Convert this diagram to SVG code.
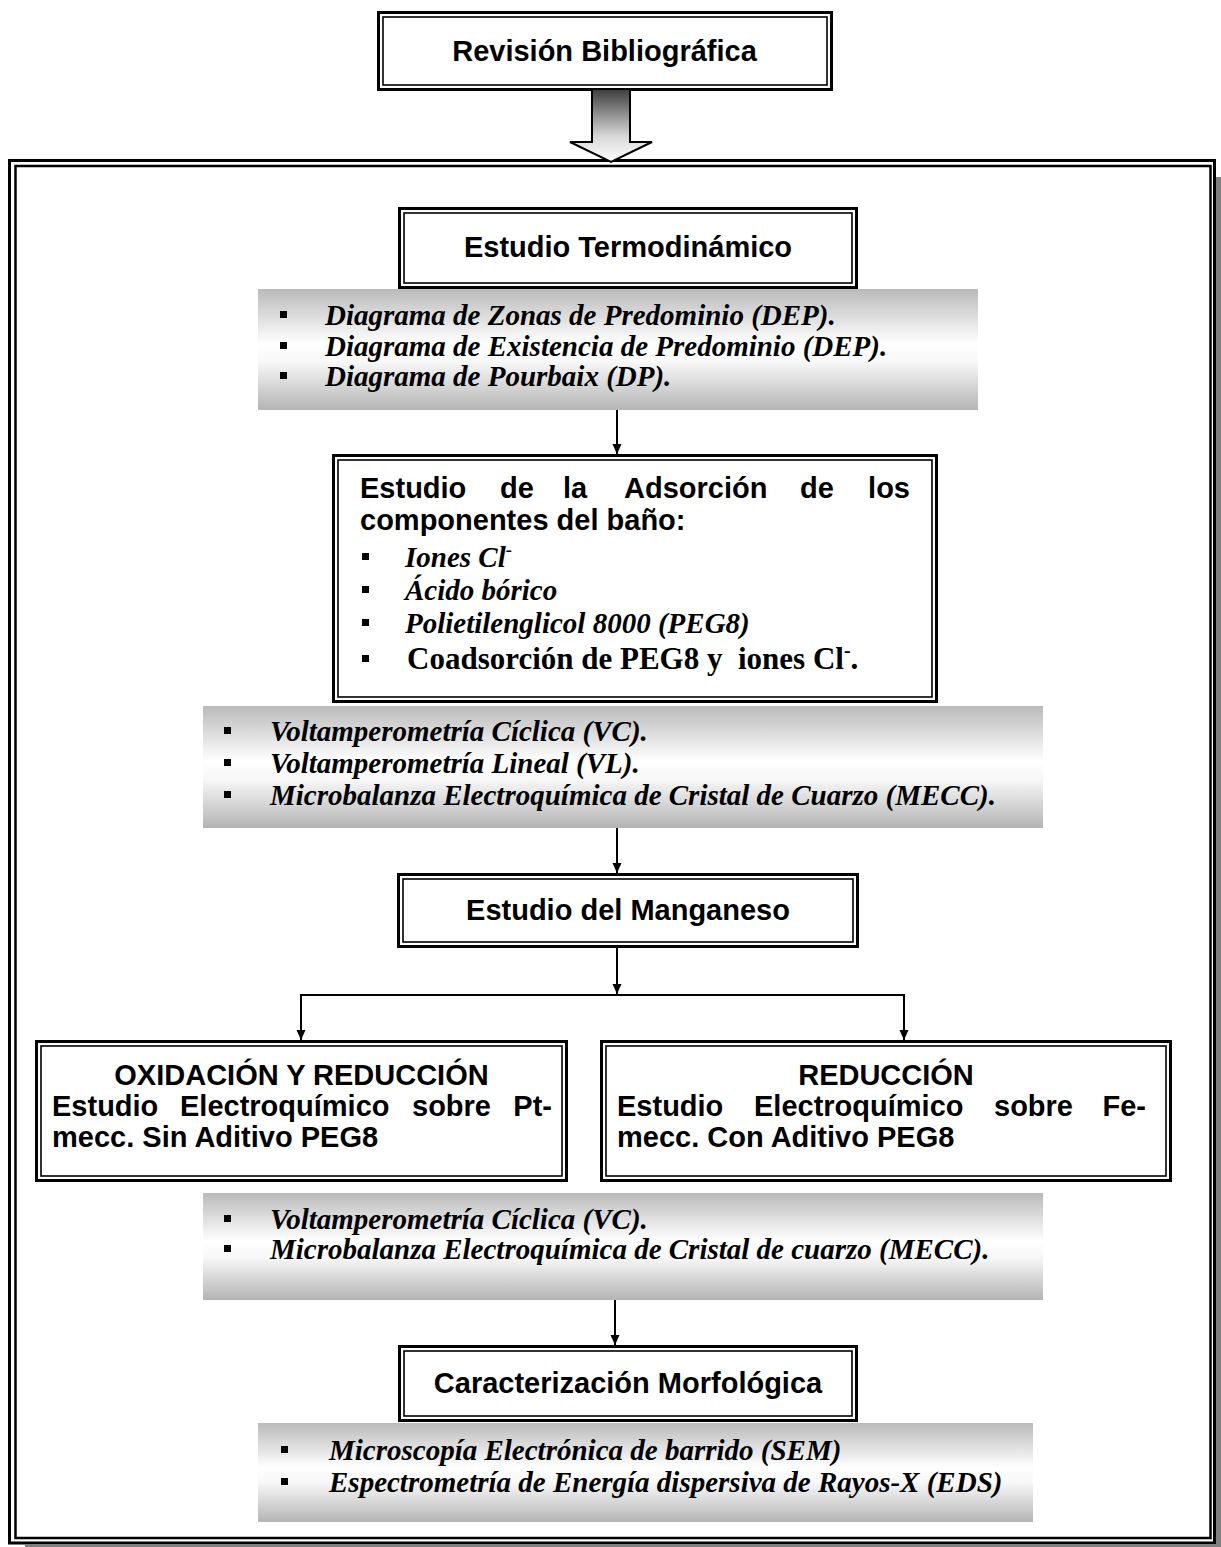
<svg xmlns="http://www.w3.org/2000/svg" width="1221" height="1547" viewBox="0 0 1221 1547">
<defs>
<linearGradient id="shade" x1="0" y1="0" x2="0" y2="1">
<stop offset="0" stop-color="#bababa"/>
<stop offset="0.45" stop-color="#ffffff"/>
<stop offset="0.6" stop-color="#f8f8f8"/>
<stop offset="1" stop-color="#b4b4b4"/>
</linearGradient>
<linearGradient id="arrowShade" x1="0" y1="0" x2="0" y2="1">
<stop offset="0" stop-color="#3c3c3c"/>
<stop offset="0.65" stop-color="#d8d8d8"/>
<stop offset="1" stop-color="#ffffff"/>
</linearGradient>
<marker id="ah" viewBox="0 0 10 10" refX="10" refY="5" markerWidth="10" markerHeight="10" markerUnits="userSpaceOnUse" orient="auto">
<path d="M0,0.5 L10,5 L0,9.5 z" fill="#000"/>
</marker>
<style>
.ob{fill:#fff;stroke:#000;stroke-width:3}
.ib{fill:none;stroke:#000;stroke-width:1.6}
.sh{fill:url(#shade)}
.h{font-family:"Liberation Sans",Arial,sans-serif;font-weight:bold;font-size:29px;fill:#000}
.it{font-family:"Liberation Serif","Times New Roman",serif;font-style:italic;font-weight:bold;font-size:29px;fill:#000}
.bd{font-family:"Liberation Serif","Times New Roman",serif;font-weight:bold;font-size:31px;fill:#000}
.c{text-anchor:middle}
.e{text-anchor:end}
.bl{fill:#000}
.cn{stroke:#000;stroke-width:2;fill:none}
.fo{fill:#fff;stroke:#000;stroke-width:3}
.fi{fill:none;stroke:#000;stroke-width:2.5}
.fs{fill:#808080}
</style>
</defs>

<g id="frame">
<rect class="fs" x="1216" y="177" width="5" height="1370"/>
<rect class="fs" x="25" y="1545" width="1196" height="2"/>
<rect class="fo" x="9.5" y="160.5" width="1205" height="1382.5"/>
<rect class="fi" x="15.5" y="166" width="1195" height="1372"/>
</g>

<g id="n-revision">
<rect class="ob" x="378.5" y="12.5" width="453" height="77"/>
<rect class="ib" x="383" y="17" width="444" height="68"/>
<text class="h c" x="604.5" y="61">Revisión Bibliográfica</text>
</g>

<g id="n-arrow">
<path d="M592,89 L630,89 L630,142 L652,142 L611,162 L570,142 L592,142 Z" fill="url(#arrowShade)" stroke="#000" stroke-width="2"/>
</g>

<g id="n-shade1">
<rect class="sh" x="258" y="289" width="720" height="121"/>
<rect class="bl" x="280" y="311" width="7" height="7"/>
<rect class="bl" x="280" y="342" width="7" height="7"/>
<rect class="bl" x="280" y="372" width="7" height="7"/>
<text class="it" x="325" y="325">Diagrama de Zonas de Predominio (DEP).</text>
<text class="it" x="325" y="356">Diagrama de Existencia de Predominio (DEP).</text>
<text class="it" x="325" y="386">Diagrama de Pourbaix (DP).</text>
</g>

<g id="n-termo">
<rect class="ob" x="399.5" y="208.5" width="457" height="79"/>
<rect class="ib" x="404" y="213" width="448" height="70"/>
<text class="h c" x="628" y="257">Estudio Termodinámico</text>
</g>

<g id="n-adsorcion">
<rect class="ob" x="333.5" y="455.5" width="603" height="246"/>
<rect class="ib" x="338" y="460" width="594" height="237"/>
<text class="h" x="360" y="498">Estudio</text>
<text class="h" x="500" y="498">de</text>
<text class="h" x="563" y="498">la</text>
<text class="h" x="624" y="498">Adsorción</text>
<text class="h" x="800" y="498">de</text>
<text class="h e" x="910" y="498">los</text>
<text class="h" x="360" y="530">componentes del baño:</text>
<rect class="bl" x="362" y="553" width="7" height="7"/>
<rect class="bl" x="362" y="586" width="7" height="7"/>
<rect class="bl" x="362" y="619" width="7" height="7"/>
<rect class="bl" x="362" y="655" width="7" height="7"/>
<text class="it" x="405" y="567">Iones Cl<tspan font-size="19" dy="-11">-</tspan></text>
<text class="it" x="405" y="600">Ácido bórico</text>
<text class="it" x="405" y="633">Polietilenglicol 8000 (PEG8)</text>
<text class="bd" x="407" y="669" xml:space="preserve">Coadsorción de PEG8 y  iones Cl<tspan font-size="20" dy="-12">-</tspan><tspan dy="12">.</tspan></text>
</g>

<g id="n-shade2">
<rect class="sh" x="203" y="706" width="840" height="122"/>
<rect class="bl" x="224" y="727" width="7" height="7"/>
<rect class="bl" x="224" y="759" width="7" height="7"/>
<rect class="bl" x="224" y="791" width="7" height="7"/>
<text class="it" x="270" y="741">Voltamperometría Cíclica (VC).</text>
<text class="it" x="270" y="773">Voltamperometría Lineal (VL).</text>
<text class="it" x="270" y="805">Microbalanza Electroquímica de Cristal de Cuarzo (MECC).</text>
</g>

<g id="n-manganeso">
<rect class="ob" x="398.5" y="874.5" width="459" height="72"/>
<rect class="ib" x="403" y="879" width="450" height="63"/>
<text class="h c" x="628" y="920">Estudio del Manganeso</text>
</g>

<g id="n-oxred">
<rect class="ob" x="36.5" y="1041.5" width="530" height="139"/>
<rect class="ib" x="41" y="1046" width="521" height="130"/>
<text class="h c" x="301.5" y="1085">OXIDACIÓN Y REDUCCIÓN</text>
<text class="h" x="52" y="1116">Estudio</text>
<text class="h" x="180" y="1116">Electroquímico</text>
<text class="h" x="412" y="1116">sobre</text>
<text class="h e" x="552" y="1116">Pt-</text>
<text class="h" x="52" y="1147">mecc. Sin Aditivo PEG8</text>
</g>

<g id="n-red">
<rect class="ob" x="601.5" y="1041.5" width="569" height="139"/>
<rect class="ib" x="606" y="1046" width="560" height="130"/>
<text class="h c" x="886" y="1085">REDUCCIÓN</text>
<text class="h" x="617" y="1116">Estudio</text>
<text class="h" x="754" y="1116">Electroquímico</text>
<text class="h" x="994" y="1116">sobre</text>
<text class="h e" x="1146" y="1116">Fe-</text>
<text class="h" x="617" y="1147">mecc. Con Aditivo PEG8</text>
</g>

<g id="n-shade3">
<rect class="sh" x="203" y="1193" width="840" height="107"/>
<rect class="bl" x="224" y="1215" width="7" height="7"/>
<rect class="bl" x="224" y="1245" width="7" height="7"/>
<text class="it" x="270" y="1229">Voltamperometría Cíclica (VC).</text>
<text class="it" x="270" y="1259">Microbalanza Electroquímica de Cristal de cuarzo (MECC).</text>
</g>

<g id="n-morf">
<rect class="ob" x="399.5" y="1346.5" width="457" height="74"/>
<rect class="ib" x="404" y="1351" width="448" height="65"/>
<text class="h c" x="628" y="1393">Caracterización Morfológica</text>
</g>

<g id="n-shade4">
<rect class="sh" x="258" y="1423" width="775" height="99"/>
<rect class="bl" x="281" y="1446" width="7" height="7"/>
<rect class="bl" x="281" y="1478" width="7" height="7"/>
<text class="it" x="329" y="1460">Microscopía Electrónica de barrido (SEM)</text>
<text class="it" x="329" y="1492">Espectrometría de Energía dispersiva de Rayos-X (EDS)</text>
</g>

<g id="connectors">
<path class="cn" d="M617,410 L617,454" marker-end="url(#ah)"/>
<path class="cn" d="M617,828 L617,873" marker-end="url(#ah)"/>
<path class="cn" d="M617,948 L617,994" marker-end="url(#ah)"/>
<path class="cn" d="M617,995 L301,995 L301,1040" marker-end="url(#ah)"/>
<path class="cn" d="M617,995 L904,995 L904,1040" marker-end="url(#ah)"/>
<path class="cn" d="M615,1300 L615,1345" marker-end="url(#ah)"/>
</g>
</svg>
